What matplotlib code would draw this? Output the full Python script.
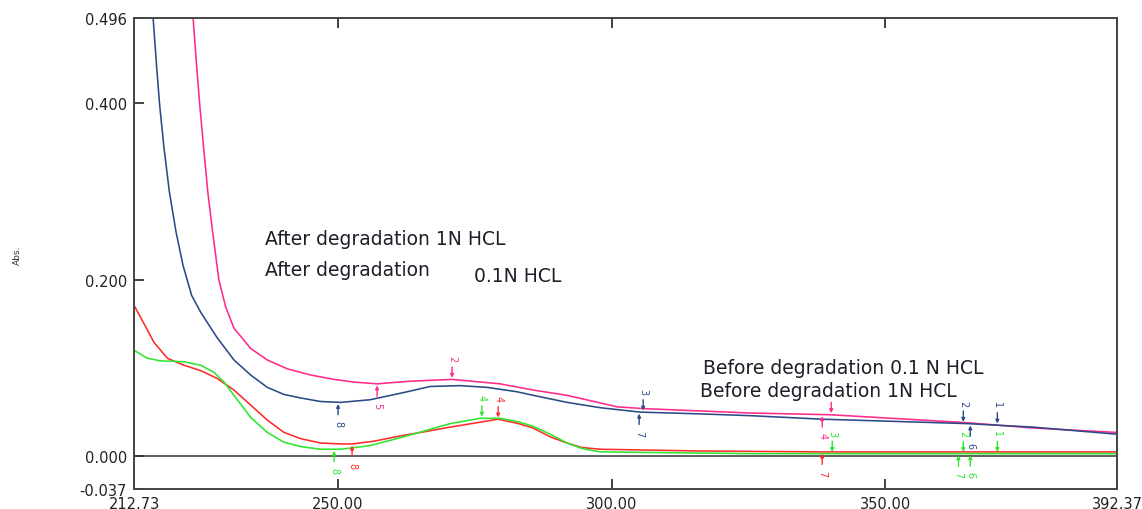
import numpy as np
import matplotlib.pyplot as plt

plt.rcParams['font.family'] = ['DejaVu Sans']

# UV scans: wavelength (nm) and absorbance
blue_wl = [215.6, 216.26, 216.84, 217.41, 218.21, 219.2, 220.41, 221.69, 223.27, 224.92,
           227.95, 231.0, 234.05, 237.09, 240.14, 243.19, 246.84, 250.5, 255.87, 261.91,
           266.84, 272.33, 277.26, 282.75, 285.67, 291.89, 297.92, 305.23, 316.2, 325.34,
           338.5, 365.01, 377.08, 392.37]
blue_abs = [0.56, 0.493, 0.443, 0.398, 0.349, 0.299, 0.254, 0.216, 0.182, 0.163,
            0.134, 0.109, 0.092, 0.078, 0.070, 0.066, 0.062, 0.061, 0.064, 0.072,
            0.079, 0.080, 0.078, 0.073, 0.069, 0.061, 0.055, 0.050, 0.048, 0.046,
            0.042, 0.037, 0.033, 0.025]

pink_wl = [223.0, 223.57, 224.16, 224.74, 225.46, 226.22, 227.1, 228.26, 229.49, 231.0,
           234.06, 237.09, 240.74, 245.02, 249.28, 252.93, 257.15, 263.19, 270.86, 279.64,
           285.67, 291.89, 301.03, 305.78, 325.34, 340.15, 365.01, 377.08, 392.37]
pink_abs = [0.55, 0.493, 0.443, 0.398, 0.349, 0.299, 0.254, 0.199, 0.169, 0.145,
            0.122, 0.109, 0.099, 0.092, 0.087, 0.084, 0.082, 0.085, 0.087, 0.082,
            0.075, 0.069, 0.056, 0.054, 0.049, 0.047, 0.038, 0.032, 0.027]

red_wl = [212.73, 214.56, 216.38, 218.81, 221.87, 224.92, 227.95, 231.0, 234.05, 237.09,
          240.14, 243.19, 246.84, 250.5, 252.58, 256.5, 261.36, 266.0, 270.5, 279.28,
          283.0, 285.67, 288.8, 291.89, 294.5, 297.92, 316.2, 338.5, 392.37]
red_abs = [0.171, 0.150, 0.129, 0.111, 0.103, 0.097, 0.088, 0.075, 0.058, 0.041,
           0.027, 0.020, 0.015, 0.014, 0.014, 0.017, 0.023, 0.028, 0.033, 0.042,
           0.037, 0.032, 0.022, 0.015, 0.010, 0.008, 0.006, 0.005, 0.005]

green_wl = [212.73, 215.16, 217.61, 221.87, 224.92, 227.35, 229.18, 231.0, 234.06, 237.09,
            240.14, 243.19, 246.84, 250.5, 255.8, 261.36, 266.0, 270.5, 276.0, 279.64,
            283.0, 285.67, 288.8, 291.89, 294.5, 297.92, 325.34, 392.37]
green_abs = [0.120, 0.111, 0.108, 0.107, 0.103, 0.095, 0.084, 0.069, 0.044, 0.027,
             0.016, 0.011, 0.008, 0.008, 0.012, 0.021, 0.029, 0.037, 0.043, 0.043,
             0.039, 0.034, 0.025, 0.015, 0.009, 0.005, 0.003, 0.003]

# peak / valley picks: wavelength, label, +1 peak (above) / -1 valley (below)
blue_pk_wl = [250.02, 305.05, 305.78, 364.28, 365.56, 370.5]
blue_pk_lbl = ['8', '7', '3', '2', '6', '1']
blue_pk_side = [-1, -1, 1, 1, -1, 1]

pink_pk_wl = [257.15, 270.86, 338.5, 340.15]
pink_pk_lbl = ['5', '2', '4', '']
pink_pk_side = [-1, 1, -1, 1]

red_pk_wl = [252.58, 279.28, 338.5]
red_pk_lbl = ['8', '4', '7']
red_pk_side = [-1, 1, -1]

green_pk_wl = [249.3, 276.3, 340.33, 363.4, 364.28, 365.56, 370.5]
green_pk_lbl = ['8', '4', '3', '7', '2', '6', '1']
green_pk_side = [-1, 1, 1, -1, 1, -1, 1]

x_ticks = [212.73, 250.0, 300.0, 350.0, 392.37]
y_ticks = [-0.037, 0.0, 0.2, 0.4, 0.496]

c_blue = '#2b4a86'
c_pink = '#ff2a8c'
c_red = '#ff2b2b'
c_green = '#2ee62e'
c_text = '#1e1e28'

fig = plt.figure(figsize=(11.42, 5.10), dpi=100)
ax = fig.add_axes([134 / 1142, 20 / 510, 983 / 1142, 471 / 510])

ax.axhline(0, color='#606060', lw=1.4, zorder=1)

ax.plot(pink_wl, pink_abs, color=c_pink, lw=1.15)
ax.plot(blue_wl, blue_abs, color=c_blue, lw=1.15)
ax.plot(red_wl, red_abs, color=c_red, lw=1.15)
ax.plot(green_wl, green_abs, color=c_green, lw=1.15)


def picks(wl, ab, at, labels, sides, color):
    for w, lbl, s in zip(at, labels, sides):
        y = np.interp(w, wl, ab)
        ax.annotate('', xy=(w, y), xytext=(0, 9 * s), textcoords='offset points',
                    arrowprops=dict(arrowstyle='-|>', color=color, lw=1.0,
                                    mutation_scale=5, shrinkA=0, shrinkB=1.2))
        if lbl:
            ax.annotate(lbl, xy=(w, y), xytext=(0, 15 * s), textcoords='offset points',
                        rotation=270, ha='center', va='center', fontsize=7, color=color)


picks(blue_wl, blue_abs, blue_pk_wl, blue_pk_lbl, blue_pk_side, c_blue)
picks(pink_wl, pink_abs, pink_pk_wl, pink_pk_lbl, pink_pk_side, c_pink)
picks(red_wl, red_abs, red_pk_wl, red_pk_lbl, red_pk_side, c_red)
picks(green_wl, green_abs, green_pk_wl, green_pk_lbl, green_pk_side, c_green)

# curve captions
ax.text(236.7, 0.246, 'After degradation 1N HCL', fontsize=13.5, color=c_text, va='center')
ax.text(236.7, 0.211, 'After degradation', fontsize=13.5, color=c_text, va='center')
ax.text(274.9, 0.205, '0.1N HCL', fontsize=13.5, color=c_text, va='center')
ax.text(316.8, 0.101, 'Before degradation 0.1 N HCL', fontsize=13.5, color=c_text, va='center')
ax.text(316.2, 0.074, 'Before degradation 1N HCL', fontsize=13.5, color=c_text, va='center')

ax.set_xlim(212.73, 392.37)
ax.set_ylim(-0.037, 0.496)
ax.set_xticks(x_ticks)
ax.set_xticklabels(['%.2f' % v for v in x_ticks])
ax.set_yticks(y_ticks)
ax.set_yticklabels(['%.3f' % v for v in y_ticks])
ax.tick_params(direction='in', length=7, width=1.3, labelsize=10.5,
               labelcolor='#222222', color='#333333', top=True, pad=5)
for sp in ax.spines.values():
    sp.set_color('#444444')
    sp.set_linewidth(1.4)

fig.text(17 / 1142, 1 - 255 / 510, 'Abs.', rotation=90, fontsize=6.5,
         color='#333333', ha='center', va='center')

fig.savefig('out.png', dpi=100)
